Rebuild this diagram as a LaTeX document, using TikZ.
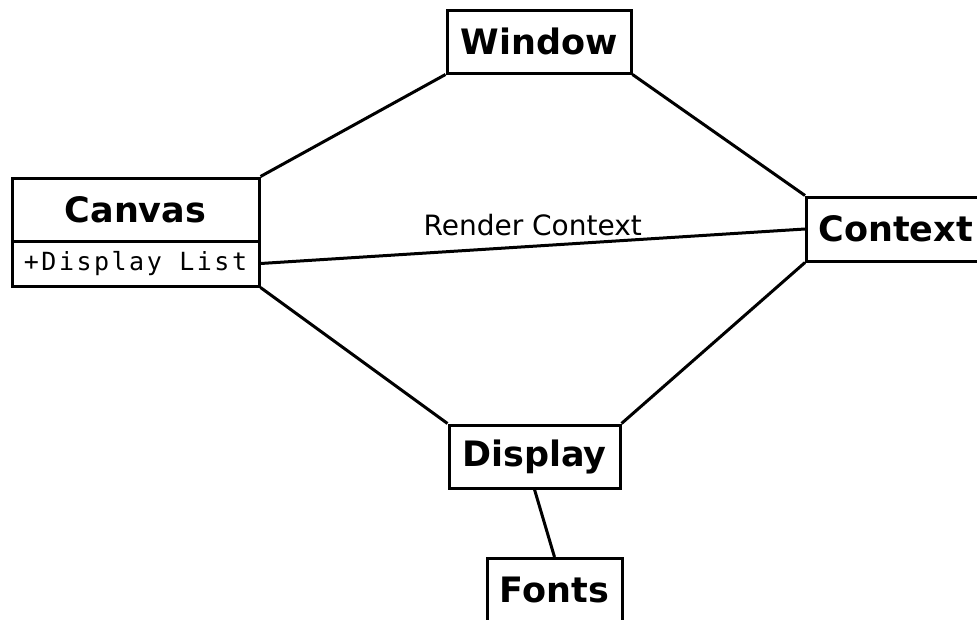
\documentclass[tikz,border=0pt]{standalone}
\usepackage{fontspec}
\setmainfont{DejaVu Sans}
\newfontfamily\attrfont[LetterSpace=10]{DejaVu Sans Mono}
\usepackage{tikz}
\usetikzlibrary{positioning}

\begin{document}
\begin{tikzpicture}[
    x=1pt, y=-1pt,
    box/.style={draw, rectangle, line width=3pt, minimum height=63pt, inner xsep=12pt, font=\fontsize{35}{38}\selectfont\bfseries},
    attr/.style={draw, rectangle, line width=3pt, minimum height=45pt, inner xsep=4pt, font=\fontsize{25}{28}\selectfont\attrfont},
    line/.style={draw, line width=3pt}
]
    \useasboundingbox (0,0) rectangle (977,619);

    % Nodes
    \node[box, minimum width=184pt] (win) at (539,41.5) {Window};
    \node[box, minimum width=247pt] (canvas) at (135.5,209.5) {Canvas};
    \node[attr, minimum width=247pt] (canvaslist) at (135.5,263.5) {+Display List};
    \node[box, anchor=west, text width=160pt, align=left, minimum height=64pt] (ctx) at (805,229) {Context};
    \node[box, minimum width=171pt] (disp) at (534.5,456.5) {Display};
    \node[box, minimum width=135pt] (fonts) at (554.5,590) {Fonts};

    % Connections
    \draw[line] (win.south west) -- (canvas.north east);
    \draw[line] (win.south east) -- (ctx.north west);
    \draw[line] (canvaslist.east) -- node[midway, above=6pt, font=\fontsize{28}{30}\selectfont] {Render Context} (ctx.west);
    \draw[line] (canvaslist.south east) -- (disp.north west);
    \draw[line] (disp.north east) -- (ctx.south west);
    \draw[line] (disp.south) -- (fonts.north);
\end{tikzpicture}
\end{document}
